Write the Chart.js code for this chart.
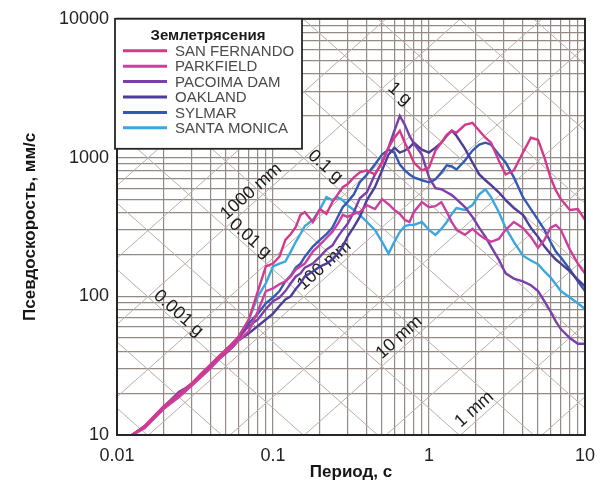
<!DOCTYPE html>
<html>
<head>
<meta charset="utf-8">
<script src="https://cdn.jsdelivr.net/npm/chart.js@4.4.1/dist/chart.umd.min.js"></script>
<style>
  html, body { margin: 0; padding: 0; background: #fff; }
</style>
</head>
<body>
<canvas id="spectra" width="609" height="485"></canvas>
<script>
// Period, s (shared by all records)
const periods = [0.0125, 0.015, 0.02, 0.025, 0.03, 0.035, 0.04, 0.045, 0.05, 0.055,
  0.06, 0.07, 0.08, 0.09, 0.1, 0.11, 0.12, 0.13, 0.14, 0.15, 0.16, 0.18, 0.2, 0.22, 0.24,
  0.26, 0.28, 0.3, 0.33, 0.36, 0.4, 0.45, 0.5, 0.55, 0.6, 0.65, 0.7, 0.75, 0.8, 0.9,
  1.0, 1.1, 1.2, 1.3, 1.4, 1.5, 1.7, 1.9, 2.1, 2.3, 2.5, 2.8, 3.1, 3.5, 4.0, 4.5,
  5.0, 5.5, 6.0, 6.5, 7.0, 8.0, 9.0, 10];

// Pseudo-velocity, mm/s
const sanFernando = [10, 11.6, 16.2, 19.8, 23.5, 28, 32.5, 37, 41, 46,
  51, 68, 109, 164, 172, 193, 255, 281, 316, 386, 405, 343, 425, 392, 477,
  543, 611, 641, 720, 781, 808, 755, 921, 1179, 1389, 1560, 1280, 1086, 921, 808,
  848, 1123, 1280, 1459, 1560, 1509, 1720, 1778, 1560, 1389, 1280, 952, 755, 808, 1086, 1389,
  1343, 1000, 720, 581, 501, 419, 425, 355];
const parkfield = [10, 11.2, 15.5, 18.8, 22.6, 26.5, 30.5, 35, 39.5, 43,
  48, 56, 78, 109, 114, 122, 128, 139, 156, 164, 172, 210, 236, 263, 291,
  332, 386, 373, 392, 405, 454, 425, 501, 461, 419, 392, 355, 343, 405, 477,
  439, 446, 477, 405, 343, 301, 277, 306, 277, 259, 247, 259, 301, 343, 311, 268,
  224, 255, 311, 327, 301, 217, 172, 146];
const pacoimaDam = [10, 11.5, 16, 20.5, 23, 27.8, 32, 36.5, 41.5, 45.5,
  50, 61, 68, 81, 92, 98, 109, 124, 139, 146, 161, 172, 193, 217, 232,
  268, 301, 332, 405, 509, 562, 755, 921, 1179, 1560, 1995, 1720, 1436, 1259, 1050,
  720, 601, 591, 562, 536, 501, 439, 373, 311, 268, 228, 184, 146, 134, 128, 120,
  109, 92, 78, 66, 58, 50, 45.5, 45.5];
const oakland = [10, 11.3, 15.6, 19, 22.8, 26.8, 31, 35.2, 39, 43,
  48, 54, 61, 68, 75, 85, 95, 100, 113, 124, 139, 151, 164, 172, 184,
  203, 228, 268, 316, 373, 493, 611, 808, 1050, 1179, 1086, 1123, 1179, 1280, 1140,
  1086, 1179, 1280, 1436, 1560, 1436, 1160, 921, 755, 686, 632, 562, 493, 432, 386, 311,
  268, 228, 203, 184, 172, 151, 132, 118];
const sylmar = [10, 11.5, 15.9, 19.5, 23.4, 27.5, 31.8, 36.5, 40.8, 45,
  50, 64, 75, 89, 98, 109, 128, 141, 161, 172, 193, 228, 255, 281, 311,
  373, 439, 477, 543, 663, 755, 891, 1050, 1140, 1086, 891, 808, 755, 720, 686,
  663, 696, 781, 877, 862, 820, 952, 1123, 1238, 1280, 1238, 1050, 921, 720, 518, 425,
  355, 301, 247, 210, 190, 156, 128, 109];
const santaMonica = [10, 11.4, 15.7, 19.2, 23, 27.2, 31.4, 36, 40.5, 45,
  51, 68, 100, 124, 164, 172, 178, 210, 247, 281, 321, 355, 425, 518, 493,
  518, 493, 454, 419, 386, 343, 301, 247, 203, 247, 291, 321, 327, 327, 343,
  301, 277, 306, 343, 392, 432, 419, 454, 543, 591, 518, 405, 311, 247, 196, 181,
  170, 151, 137, 122, 109, 98, 89, 81];

const seriesNames = ['SAN FERNANDO', 'PARKFIELD', 'PACOIMA DAM', 'OAKLAND', 'SYLMAR', 'SANTA MONICA'];
const seriesValues = [sanFernando, parkfield, pacoimaDam, oakland, sylmar, santaMonica];
const seriesColors = ['#d5398c', '#cc3f9e', '#7a3fa8', '#4b3d98', '#3559b2', '#3ba7de'];

// axes
const xDecades = [0.01, 0.1, 1, 10];
const xTickLabels = ['0.01', '0.1', '1', '10'];
const yDecades = [10, 100, 1000, 10000];
const yTickLabels = ['10', '100', '1000', '10000'];
const gridSteps = [1, 2, 3, 4, 5, 6, 7, 8, 9];

// diagonal (tripartite) lines
const dispValues = [1, 10, 100, 1000];            // mm
const dispLabels = ['1 mm', '10 mm', '100 mm', '1000 mm'];
const dispLabelPeriods = [2.15, 0.71, 0.235, 0.08];
const accValues = [0.001, 0.01, 0.1, 1];          // g
const accLabels = ['0.001 g', '0.01 g', '0.1 g', '1 g'];
const accLabelPeriods = [0.0229, 0.066, 0.2, 0.6];
const diagMultiples = [1, 3];
const G_MM = 9810;

const FONT = "'Liberation Sans', Arial, sans-serif";
Chart.defaults.font.family = FONT;

const dispVelocity = (d, t) => 2 * Math.PI * d * t;
const accVelocity = (a, t) => a * G_MM / (2 * Math.PI * t);

function gridValues(decades) {
  const vals = [];
  decades.slice(0, -1).forEach(d => gridSteps.forEach(s => vals.push(d * s)));
  vals.push(decades[decades.length - 1]);
  return vals;
}

function decadeLabel(v, decades, labels) {
  const i = decades.findIndex(d => Math.abs(v - d) / d < 1e-6);
  return i >= 0 ? labels[i] : '';
}

const tripartite = {
  id: 'tripartite',
  beforeDatasetsDraw(chart) {
    const { ctx, chartArea: area, scales: { x, y } } = chart;
    const px = (t, v) => [x.getPixelForValue(t), y.getPixelForValue(v)];
    ctx.save();
    ctx.beginPath();
    ctx.rect(area.left, area.top, area.right - area.left, area.bottom - area.top);
    ctx.clip();

    ctx.strokeStyle = '#b8aeaa';
    ctx.lineWidth = 1;
    for (let k = -6; k <= 6; k++) {
      diagMultiples.forEach(m => {
        const q = m * Math.pow(10, k);
        [dispVelocity, accVelocity].forEach(fn => {
          const a = px(x.min, fn(q, x.min));
          const b = px(x.max, fn(q, x.max));
          ctx.beginPath();
          ctx.moveTo(a[0], a[1]);
          ctx.lineTo(b[0], b[1]);
          ctx.stroke();
        });
      });
    }

    // labels on the diagonals
    ctx.fillStyle = '#1c1c1c';
    ctx.font = '18px ' + FONT;
    ctx.textAlign = 'center';
    ctx.textBaseline = 'middle';
    const put = (text, fn, q, t, off) => {
      const a = px(t, fn(q, t));
      const b = px(t * 1.2, fn(q, t * 1.2));
      const ang = Math.atan2(b[1] - a[1], b[0] - a[0]);
      ctx.save();
      ctx.translate(a[0] + Math.sin(ang) * off, a[1] - Math.cos(ang) * off);
      ctx.rotate(ang);
      ctx.fillText(text, 0, 0);
      ctx.restore();
    };
    dispValues.forEach((d, i) => put(dispLabels[i], dispVelocity, d, dispLabelPeriods[i], 10));
    accValues.forEach((a, i) => put(accLabels[i], accVelocity, a, accLabelPeriods[i], 8));
    ctx.restore();
  },
  afterDatasetsDraw(chart) {
    const { ctx, chartArea: area } = chart;
    ctx.save();
    // plot frame
    ctx.strokeStyle = '#262626';
    ctx.lineWidth = 2;
    ctx.strokeRect(area.left, area.top, area.right - area.left, area.bottom - area.top);

    // legend box in the upper-left corner
    const lx = area.left - 2, ly = area.top, lw = 187, lh = 130;
    ctx.fillStyle = '#fff';
    ctx.fillRect(lx, ly, lw, lh);
    ctx.lineWidth = 1.8;
    ctx.strokeRect(lx, ly, lw, lh);

    ctx.fillStyle = '#1a1a1a';
    ctx.font = 'bold 15px ' + FONT;
    ctx.textAlign = 'center';
    ctx.textBaseline = 'middle';
    ctx.fillText('Землетрясения', lx + 93, ly + 17);

    ctx.font = '15px ' + FONT;
    ctx.textAlign = 'left';
    chart.data.datasets.forEach((ds, i) => {
      const ry = ly + 32 + i * 15.4;
      ctx.strokeStyle = ds.borderColor;
      ctx.lineWidth = 3;
      ctx.beginPath();
      ctx.moveTo(lx + 8, ry);
      ctx.lineTo(lx + 52, ry);
      ctx.stroke();
      ctx.fillStyle = '#4a4a4a';
      ctx.fillText(ds.label, lx + 60, ry + 1);
    });
    ctx.restore();
  }
};

new Chart(document.getElementById('spectra'), {
  type: 'scatter',
  data: {
    datasets: seriesNames.map((name, i) => ({
      label: name,
      data: periods.map((t, j) => ({ x: t, y: seriesValues[i][j] })),
      showLine: true,
      borderColor: seriesColors[i],
      backgroundColor: seriesColors[i],
      borderWidth: 2.4,
      pointRadius: 0,
      tension: 0
    }))
  },
  options: {
    responsive: false,
    animation: false,
    devicePixelRatio: 1,
    layout: { padding: { top: 15, right: 24, bottom: 0, left: 0 } },
    plugins: { legend: { display: false }, tooltip: { enabled: false } },
    scales: {
      x: {
        type: 'logarithmic',
        min: 0.01,
        max: 10,
        afterBuildTicks: s => { s.ticks = gridValues(xDecades).map(v => ({ value: v })); },
        afterFit: s => { s.height = 50; },
        ticks: {
          autoSkip: false,
          maxRotation: 0,
          padding: 10,
          color: '#222',
          font: { size: 18 },
          callback: v => decadeLabel(v, xDecades, xTickLabels)
        },
        grid: { color: '#938a86', lineWidth: 1.2, drawTicks: false },
        border: { display: false },
        title: {
          display: true,
          text: 'Период, с',
          color: '#151515',
          font: { size: 17, weight: 'bold' },
          padding: { top: 0, bottom: 2 }
        }
      },
      y: {
        type: 'logarithmic',
        min: 10,
        max: 10000,
        afterBuildTicks: s => { s.ticks = gridValues(yDecades).map(v => ({ value: v })); },
        afterFit: s => { s.width = 117; },
        ticks: {
          autoSkip: false,
          padding: 8,
          color: '#222',
          font: { size: 18 },
          callback: v => decadeLabel(v, yDecades, yTickLabels)
        },
        grid: { color: '#938a86', lineWidth: 1.2, drawTicks: false },
        border: { display: false },
        title: {
          display: true,
          text: 'Псевдоскорость, мм/с',
          color: '#151515',
          font: { size: 17, weight: 'bold' },
          padding: { top: 20, bottom: 0 }
        }
      }
    }
  },
  plugins: [tripartite]
});
</script>
</body>
</html>
